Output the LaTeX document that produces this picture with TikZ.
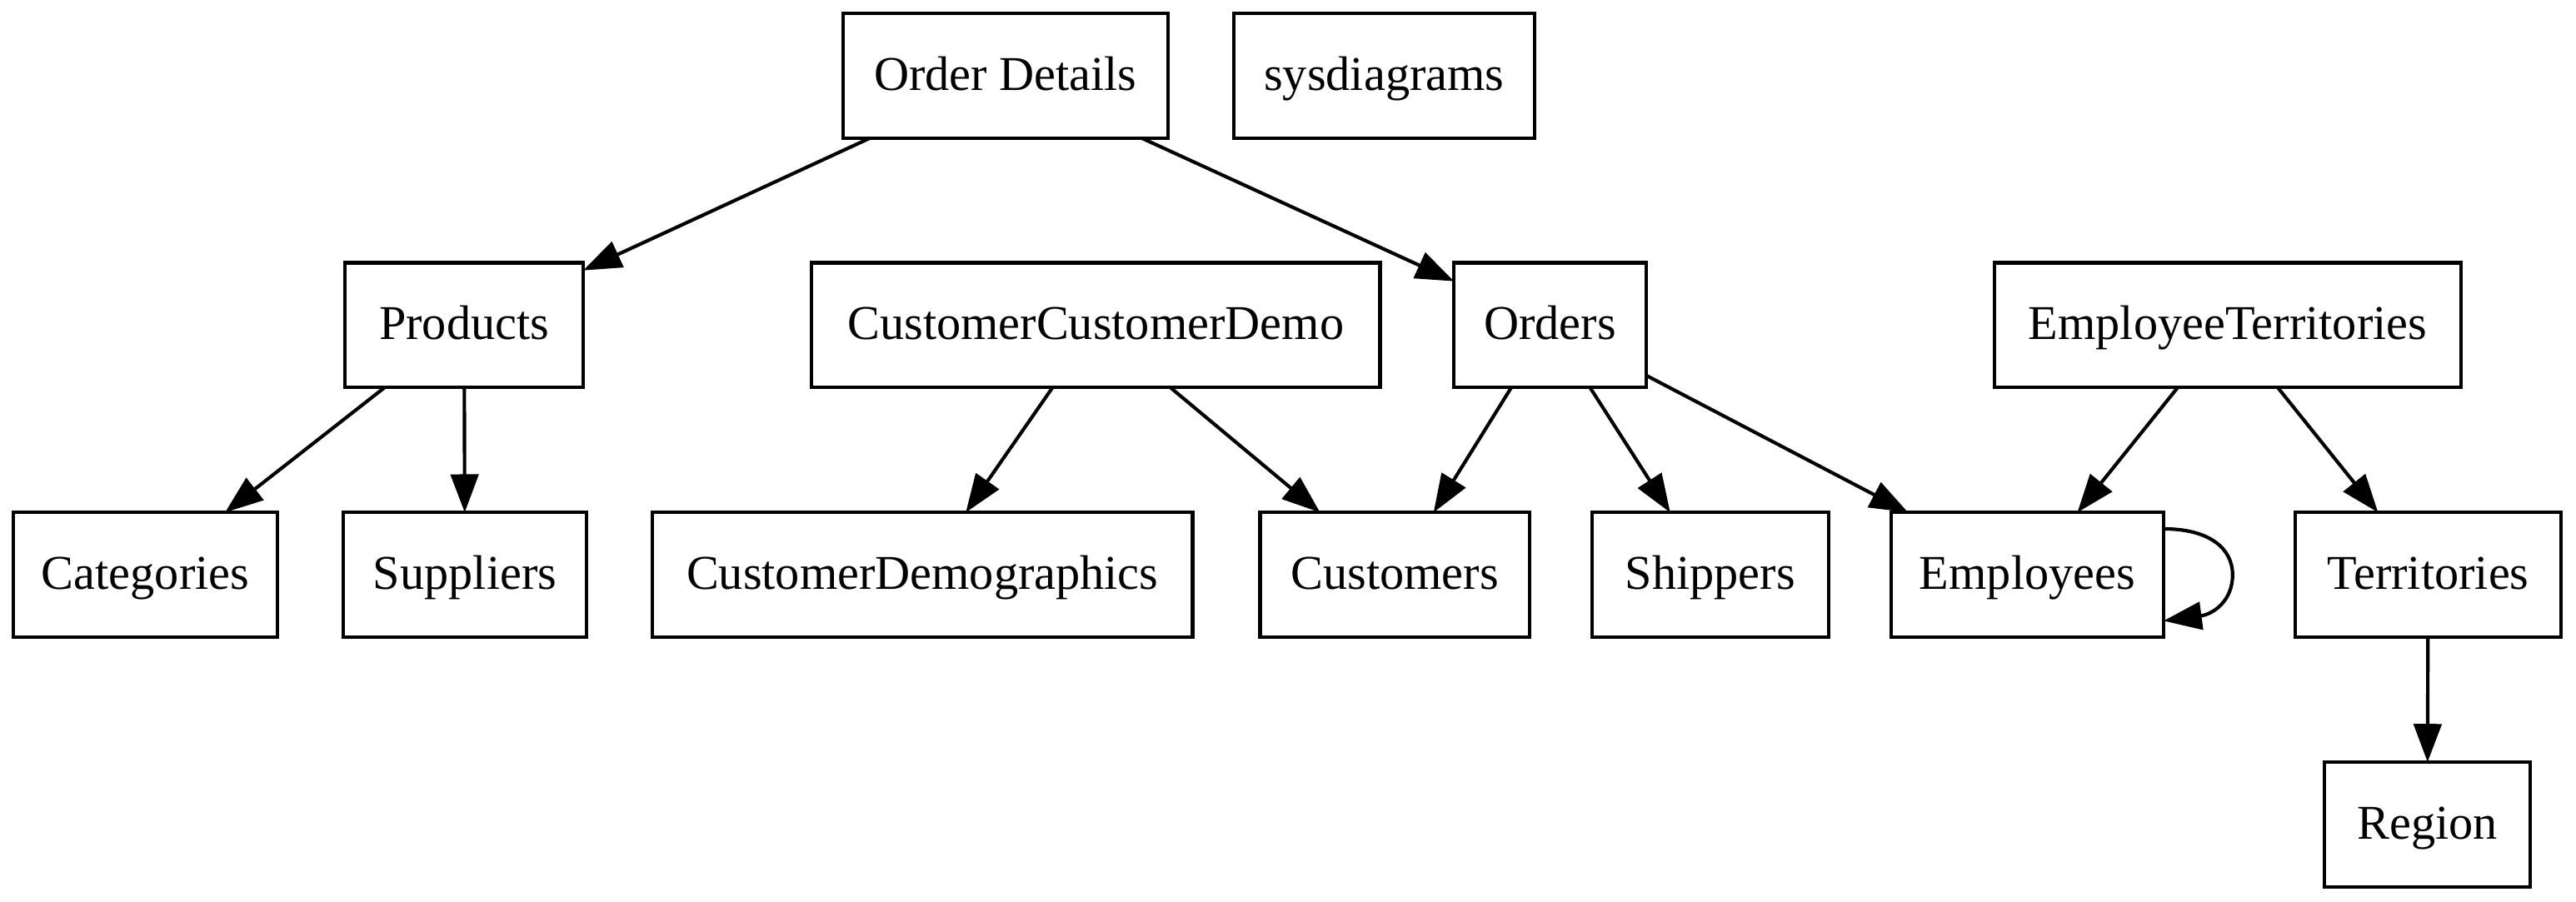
\documentclass[tikz,border=0pt]{standalone}
\usepackage{fontspec}
\setmainfont{Liberation Serif}
\usetikzlibrary{arrows.meta}
\begin{document}
\begin{tikzpicture}[x=0.4737pt,y=-0.4737pt,
  tbl/.style={draw=black, line width=1pt, rectangle, minimum height=36pt, inner sep=0pt, outer sep=0pt,
    text height=11pt, text depth=2.6pt, font=\fontsize{14}{16}\selectfont},
  edge/.style={draw=black, line width=1pt, -{Triangle[length=11pt,width=8pt]}}]
\useasboundingbox (0,0) rectangle (1568,549);
\node[tbl, minimum width=93.8pt] (od) at (612,46) {Order Details};
\node[tbl, minimum width=86.7pt] (sys) at (842.5,46) {sysdiagrams};
\node[tbl, minimum width=68.7pt] (prod) at (282.5,198) {Products};
\node[tbl, minimum width=163.9pt] (ccd) at (667,198) {CustomerCustomerDemo};
\node[tbl, minimum width=55.4pt] (ord) at (943.5,198) {Orders};
\node[tbl, minimum width=134.5pt] (et) at (1356,198) {EmployeeTerritories};
\node[tbl, minimum width=76.3pt] (cat) at (88.5,350) {Categories};
\node[tbl, minimum width=70.1pt] (sup) at (283,350) {Suppliers};
\node[tbl, minimum width=155.8pt] (cdem) at (561.5,350) {CustomerDemographics};
\node[tbl, minimum width=77.7pt] (cust) at (849,350) {Customers};
\node[tbl, minimum width=68.2pt] (ship) at (1041,350) {Shippers};
\node[tbl, minimum width=78.6pt] (emp) at (1234,350) {Employees};
\node[tbl, minimum width=76.7pt] (terr) at (1478,350) {Territories};
\node[tbl, minimum width=59.2pt] (reg) at (1477.5,502) {Region};

\draw[edge] (od) -- (prod);
\draw[edge] (od) -- (ord);
\draw[edge] (prod) -- (cat);
\draw[edge] (prod) -- (sup);
\draw[edge] (ccd) -- (cdem);
\draw[edge] (ccd) -- (cust);
\draw[edge] (ord) -- (cust);
\draw[edge] (ord) -- (ship);
\draw[edge] (ord) -- (emp);
\draw[edge] (et) -- (emp);
\draw[edge] (et) -- (terr);
\draw[edge] (terr) -- (reg);
\coordinate (loopS) at ([shift={(0,-28)}]emp.east);
\coordinate (loopM) at ([shift={(42,0)}]emp.east);
\coordinate (loopE) at ([shift={(0,28)}]emp.east);
\draw[edge] (loopS) .. controls +(28,0) and +(0,-16) .. (loopM)
  .. controls +(0,16) and +(30,-4) .. (loopE);
\end{tikzpicture}
\end{document}
